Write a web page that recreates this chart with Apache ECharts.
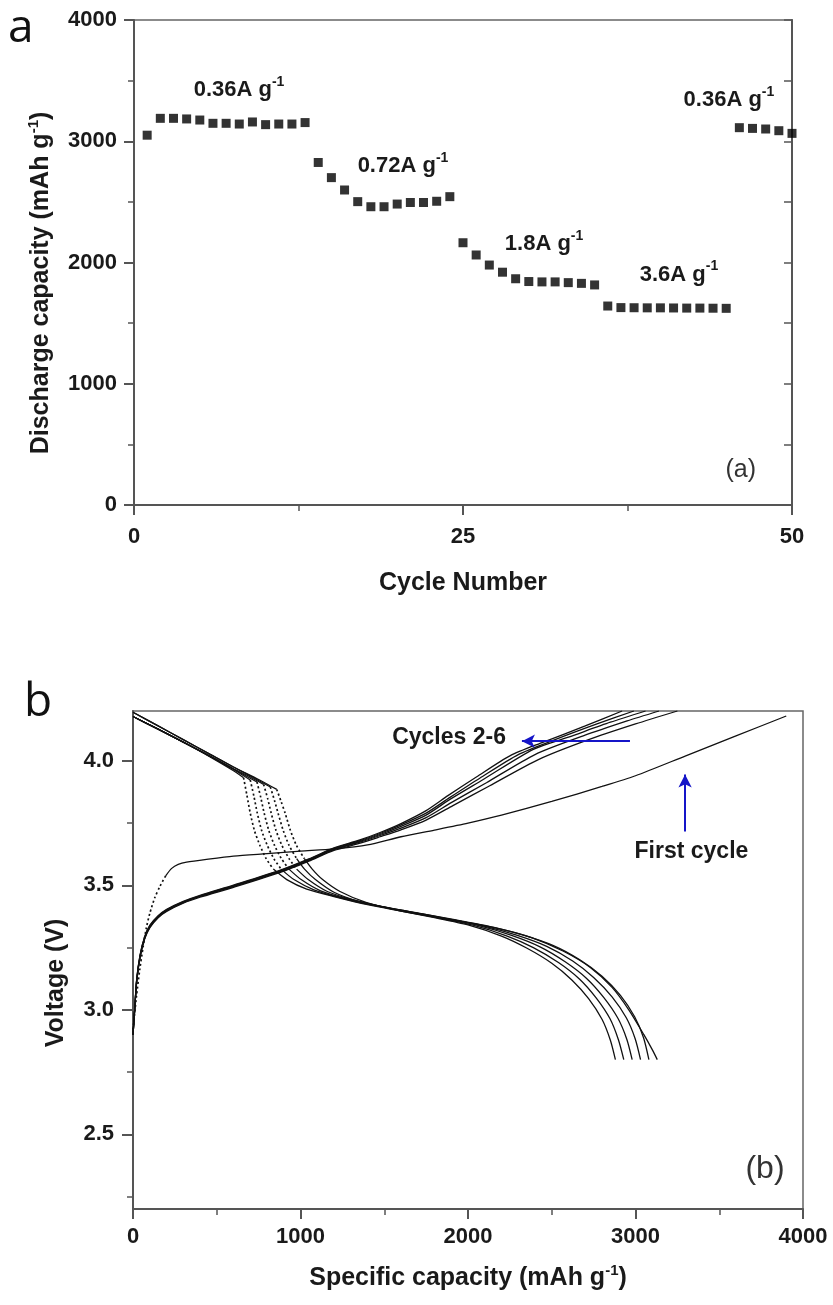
<!DOCTYPE html>
<html><head><meta charset="utf-8">
<script src="https://cdn.jsdelivr.net/npm/echarts@6/dist/echarts.min.js"></script>
<style>html,body{margin:0;padding:0;background:#fff}#c{width:833px;height:1305px}</style>
</head><body><div id="c"></div>
<script>
// ---------- Panel (a): rate capability ----------
const cycles = [1,2,3,4,5,6,7,8,9,10,11,12,13,14,15,16,17,18,19,20,21,22,23,24,25,26,27,28,29,30,31,32,33,34,35,36,37,38,39,40,41,42,43,44,45,46,47,48,49,50];
const capacity = [3050,3189,3189,3184,3175,3148,3148,3142,3159,3137,3142,3142,3154,
  2825,2700,2598,2502,2460,2460,2482,2495,2495,2505,2543,
  2163,2062,1979,1920,1866,1843,1840,1840,1834,1828,1815,
  1641,1628,1627,1626,1626,1625,1624,1624,1623,1622,
  3112,3106,3101,3087,3065];
const rateLabels = ['0.36A g','0.72A g','1.8A g','3.6A g','0.36A g'];
const xTicksA = [0,25,50];
const yTicksA = [0,1000,2000,3000,4000];

// ---------- Panel (b): voltage profiles [capacity, voltage] ----------
const xTicksB = [0,1000,2000,3000,4000];
const yTicksB = [2.5,3.0,3.5,4.0];
const yMinorB = [2.25,2.75,3.25,3.75];

const discharge1 = [[0,4.195],[150,4.14],[300,4.085],[450,4.03],[600,3.975],[750,3.925],[858,3.885],[885,3.835],[908,3.79],[940,3.72],[976,3.66],[1023,3.607],[1070,3.565],[1132,3.523],[1236,3.475],[1395,3.43],[1594,3.397],[1800,3.373],[2000,3.35],[2190,3.325],[2380,3.29],[2570,3.235],[2730,3.17],[2860,3.09],[2960,3.0],[3050,2.9],[3100,2.84],[3130,2.8]];
const discharge2 = [[0,4.195],[150,4.14],[300,4.085],[450,4.03],[600,3.975],[720,3.932],[820,3.895],[845,3.84],[866,3.79],[897,3.72],[932,3.66],[977,3.607],[1024,3.565],[1089,3.523],[1200,3.472],[1350,3.435],[1520,3.41],[1720,3.386],[1920,3.362],[2120,3.336],[2320,3.302],[2510,3.258],[2670,3.2],[2800,3.135],[2910,3.058],[2995,2.972],[3048,2.888],[3080,2.8]];
const discharge3 = [[0,4.178],[150,4.127],[300,4.075],[450,4.022],[600,3.968],[700,3.935],[780,3.905],[804,3.848],[825,3.79],[854,3.72],[889,3.66],[932,3.607],[977,3.565],[1046,3.523],[1160,3.475],[1320,3.44],[1490,3.414],[1690,3.39],[1890,3.364],[2090,3.337],[2290,3.3],[2470,3.255],[2625,3.196],[2750,3.13],[2860,3.052],[2945,2.968],[2998,2.884],[3030,2.8]];
const discharge4 = [[0,4.178],[150,4.127],[300,4.075],[450,4.022],[600,3.967],[740,3.915],[763,3.852],[783,3.79],[811,3.72],[845,3.66],[886,3.607],[931,3.565],[1004,3.523],[1120,3.478],[1280,3.445],[1460,3.417],[1660,3.392],[1860,3.366],[2060,3.339],[2260,3.299],[2430,3.253],[2580,3.193],[2705,3.128],[2810,3.05],[2895,2.966],[2948,2.882],[2980,2.8]];
const discharge5 = [[0,4.178],[150,4.127],[300,4.075],[450,4.022],[600,3.965],[700,3.923],[722,3.857],[742,3.79],[768,3.72],[802,3.66],[841,3.607],[884,3.565],[961,3.523],[1080,3.482],[1240,3.45],[1430,3.42],[1630,3.394],[1830,3.368],[2030,3.34],[2230,3.297],[2390,3.25],[2540,3.19],[2665,3.124],[2765,3.048],[2848,2.964],[2898,2.88],[2930,2.8]];
const discharge6 = [[0,4.178],[150,4.127],[300,4.075],[450,4.02],[600,3.96],[660,3.932],[680,3.862],[700,3.79],[725,3.72],[758,3.66],[795,3.607],[838,3.565],[918,3.523],[1037,3.485],[1200,3.455],[1400,3.422],[1600,3.396],[1800,3.37],[2000,3.341],[2200,3.296],[2350,3.248],[2500,3.187],[2620,3.12],[2720,3.045],[2800,2.962],[2850,2.878],[2880,2.8]];

const charge1 = [[0,2.92],[20,3.05],[40,3.16],[61,3.255],[80,3.33],[101,3.389],[130,3.45],[161,3.496],[195,3.538],[231,3.568],[270,3.584],[320,3.593],[450,3.605],[600,3.617],[800,3.627],[1000,3.637],[1200,3.646],[1400,3.662],[1600,3.695],[1800,3.722],[2000,3.75],[2200,3.782],[2500,3.837],[2800,3.897],[3000,3.94],[3300,4.02],[3600,4.1],[3900,4.18]];
const charge2 = [[0,2.9],[10,3.0],[22,3.11],[42,3.21],[70,3.285],[101,3.33],[150,3.37],[201,3.395],[300,3.428],[400,3.452],[600,3.492],[880,3.552],[1050,3.597],[1200,3.64],[1350,3.668],[1475,3.695],[1600,3.723],[1750,3.762],[1910,3.82],[2130,3.9],[2420,4.005],[2720,4.085],[3000,4.148],[3250,4.2]];
const charge3 = [[0,2.9],[10,3.0],[22,3.115],[42,3.212],[70,3.288],[101,3.333],[150,3.372],[201,3.398],[300,3.43],[400,3.455],[600,3.495],[880,3.555],[1050,3.6],[1200,3.643],[1350,3.672],[1475,3.7],[1600,3.73],[1750,3.772],[1900,3.832],[2110,3.912],[2400,4.025],[2688,4.1],[2950,4.16],[3140,4.2]];
const charge4 = [[0,2.9],[10,3.0],[22,3.118],[42,3.215],[70,3.29],[101,3.335],[150,3.374],[201,3.4],[300,3.432],[400,3.456],[600,3.497],[880,3.557],[1050,3.602],[1200,3.645],[1350,3.675],[1475,3.704],[1600,3.737],[1750,3.782],[1892,3.845],[2091,3.925],[2390,4.046],[2600,4.095],[2850,4.155],[3060,4.2]];
const charge5 = [[0,2.9],[10,3.0],[22,3.12],[42,3.218],[70,3.293],[101,3.338],[150,3.376],[201,3.402],[300,3.434],[400,3.458],[600,3.499],[880,3.559],[1050,3.604],[1200,3.648],[1350,3.678],[1475,3.708],[1600,3.743],[1750,3.79],[1890,3.852],[2070,3.93],[2300,4.025],[2520,4.085],[2770,4.148],[2990,4.2]];
const charge6 = [[0,2.9],[10,3.0],[22,3.122],[42,3.22],[70,3.295],[101,3.34],[150,3.378],[201,3.404],[300,3.436],[400,3.46],[600,3.501],[880,3.561],[1050,3.606],[1200,3.65],[1350,3.681],[1475,3.712],[1600,3.748],[1750,3.8],[1880,3.86],[2050,3.935],[2250,4.02],[2450,4.075],[2700,4.14],[2920,4.2]];

// ---------- styling ----------
const FONT = '"Liberation Sans", Arial, sans-serif';
const AXC = '#555';
const TXT = '#1a1a1a';
const richBase = {
  t: {fontFamily: FONT, fontWeight: 'bold', fontSize: 22, fill: TXT, color: TXT, lineHeight: 30},
  s: {fontFamily: FONT, fontWeight: 'bold', fontSize: 14, fill: TXT, color: TXT, lineHeight: 14, verticalAlign: 'top'}
};
const richTitle = {
  t: {fontFamily: FONT, fontWeight: 'bold', fontSize: 25, fill: TXT, color: TXT, lineHeight: 30},
  s: {fontFamily: FONT, fontWeight: 'bold', fontSize: 15, fill: TXT, color: TXT, lineHeight: 15, verticalAlign: 'top'}
};
const labelStyle = {fontFamily: FONT, fontWeight: 'bold', fontSize: 22, color: TXT};

function splitRuns(pts, vLo, vHi, thr) {
  const runs = [];
  for (let i = 0; i < pts.length - 1; i++) {
    const a = pts[i], b = pts[i + 1];
    const slope = Math.abs((b[1] - a[1]) / ((b[0] - a[0]) || 1e-9)) * 1000;
    const dotted = slope > thr && a[1] >= vLo && a[1] <= vHi && b[1] >= vLo && b[1] <= vHi;
    const last = runs[runs.length - 1];
    if (last && last.dotted === dotted) last.pts.push(b);
    else runs.push({dotted, pts: [a, b]});
  }
  return runs;
}
function curveSeries(pts, dottedWin) {
  const runs = dottedWin ? splitRuns(pts, dottedWin[0], dottedWin[1], 0.9) : [{dotted: false, pts}];
  return runs.map(r => ({
    type: 'line', xAxisIndex: 1, yAxisIndex: 2, data: r.pts,
    showSymbol: false, symbol: 'none', smooth: 0.25, silent: true,
    lineStyle: {color: '#111', width: r.dotted ? 1.7 : 1.3, type: r.dotted ? [2, 2.6] : 'solid'}
  }));
}

const series = [];
series.push({
  type: 'scatter', xAxisIndex: 0, yAxisIndex: 0, symbol: 'rect', symbolSize: 9,
  itemStyle: {color: '#000'}, silent: true,
  data: cycles.map((c, i) => [c, capacity[i]])
});

[discharge1, discharge2, discharge3, discharge4, discharge5, discharge6].forEach(d => {
  curveSeries(d, [3.55, 3.94]).forEach(s => series.push(s));
});
curveSeries(charge1, [2.85, 3.55]).forEach(s => series.push(s));
[charge2, charge3, charge4, charge5, charge6].forEach(d => {
  curveSeries(d, null).forEach(s => series.push(s));
});

// arrows (data coordinates) carried by an empty line series
series.push({
  type: 'line', xAxisIndex: 1, yAxisIndex: 2, data: [], silent: true,
  markLine: {
    silent: true, animation: false, symbol: ['none', 'arrow'], symbolSize: [10, 13],
    label: {show: false},
    lineStyle: {color: '#1515c8', width: 2, type: 'solid'},
    data: [
      [{coord: [2967, 4.079]}, {coord: [2322, 4.079]}],
      [{coord: [3296, 3.716]}, {coord: [3296, 3.945]}]
    ]
  }
});

const axisLine = {show: true, onZero: false, lineStyle: {color: AXC, width: 2}};
const tick = (len) => ({show: true, length: len, lineStyle: {color: AXC, width: 2}});
const plain = v => String(v);

const baseGraphics = [
  {type: 'text', x: 8, y: 29, silent: true,
   style: {text: 'a', font: 'normal 46px "Open Sans", sans-serif', fill: '#111', align: 'left', verticalAlign: 'middle'}},
  {type: 'text', x: 24, y: 703, silent: true,
   style: {text: 'b', font: 'normal 46px "Open Sans", sans-serif', fill: '#111', align: 'left', verticalAlign: 'middle'}},
  {type: 'text', x: 41, y: 283, rotation: Math.PI / 2, silent: true,
   style: {text: '{t|Discharge capacity (mAh g}{s|-1}{t|)}', rich: richTitle, align: 'center', verticalAlign: 'middle'}},
  {type: 'text', x: 56, y: 983, rotation: Math.PI / 2, silent: true,
   style: {text: '{t|Voltage (V)}', rich: richTitle, align: 'center', verticalAlign: 'middle'}}
];

const option = {
  animation: false,
  backgroundColor: '#fff',
  grid: [
    {left: 134, top: 20, width: 658, height: 485, show: true, borderColor: '#666', borderWidth: 1.5, backgroundColor: 'transparent'},
    {left: 133, top: 711, width: 670, height: 498, show: true, borderColor: '#666', borderWidth: 1.5, backgroundColor: 'transparent'}
  ],
  xAxis: [
    {gridIndex: 0, type: 'value', min: 0, max: 50, interval: 25,
     axisLine, axisTick: tick(10),
     minorTick: {show: true, splitNumber: 2, length: 6, lineStyle: {color: AXC, width: 1.5}},
     splitLine: {show: false}, minorSplitLine: {show: false},
     axisLabel: Object.assign({margin: 21, customValues: xTicksA, formatter: plain}, labelStyle),
     name: '{t|Cycle Number}', nameLocation: 'middle', nameGap: 63,
     nameTextStyle: {rich: richTitle}},
    {gridIndex: 1, type: 'value', min: 0, max: 4000, interval: 1000,
     axisLine, axisTick: tick(10),
     minorTick: {show: true, splitNumber: 2, length: 6, lineStyle: {color: AXC, width: 1.5}},
     splitLine: {show: false}, minorSplitLine: {show: false},
     axisLabel: Object.assign({margin: 17, customValues: xTicksB, formatter: plain}, labelStyle),
     name: '{t|Specific capacity (mAh g}{s|-1}{t|)}', nameLocation: 'middle', nameGap: 54,
     nameTextStyle: {rich: richTitle}}
  ],
  yAxis: [
    {gridIndex: 0, type: 'value', min: 0, max: 4000, interval: 1000, position: 'left',
     axisLine, axisTick: tick(10),
     minorTick: {show: true, splitNumber: 2, length: 6, lineStyle: {color: AXC, width: 1.5}},
     splitLine: {show: false}, minorSplitLine: {show: false},
     axisLabel: Object.assign({margin: 17, customValues: yTicksA, formatter: plain}, labelStyle)},
    {gridIndex: 0, type: 'value', min: 0, max: 4000, interval: 500, position: 'right',
     axisLine, axisTick: {show: true, inside: true, length: 8, lineStyle: {color: AXC, width: 1.5}},
     splitLine: {show: false}, axisLabel: {show: false}},
    {gridIndex: 1, type: 'value', min: 2.2, max: 4.2, position: 'left',
     axisLine, axisTick: Object.assign(tick(11), {customValues: yTicksB}),
     splitLine: {show: false},
     axisLabel: Object.assign({margin: 19, customValues: yTicksB, formatter: v => Number(v).toFixed(1)}, labelStyle)},
    {gridIndex: 1, type: 'value', min: 2.2, max: 4.2, position: 'left',
     axisLine: {show: false}, axisTick: {show: true, length: 6, customValues: yMinorB, lineStyle: {color: AXC, width: 1.5}},
     splitLine: {show: false}, axisLabel: {show: false}}
  ],
  graphic: baseGraphics,
  series
};

const chart = echarts.init(document.getElementById('c'), null, {renderer: 'canvas'});
chart.setOption(option);

// annotations placed through the axes' own scales
const toA = v => chart.convertToPixel({xAxisIndex: 0, yAxisIndex: 0}, v);
const toB = v => chart.convertToPixel({xAxisIndex: 1, yAxisIndex: 2}, v);
const annPosA = [[7.98, 3423], [20.44, 2796], [31.16, 2153], [41.41, 1901], [45.21, 3340]];
const ann = [];
rateLabels.forEach((t, i) => {
  const p = toA(annPosA[i]);
  ann.push({type: 'text', x: p[0], y: p[1], silent: true,
    style: {text: '{t|' + t + '}{s|-1}', rich: richBase, align: 'center', verticalAlign: 'middle'}});
});
const pa = toA([46.1, 289]);
ann.push({type: 'text', x: pa[0], y: pa[1], silent: true,
  style: {text: '(a)', font: 'normal 25px ' + FONT, fill: '#333', align: 'center', verticalAlign: 'middle'}});
const pc = toB([1887, 4.094]);
ann.push({type: 'text', x: pc[0], y: pc[1], silent: true,
  style: {text: 'Cycles 2-6', font: 'bold 23px ' + FONT, fill: TXT, align: 'center', verticalAlign: 'middle'}});
const pf = toB([3334, 3.636]);
ann.push({type: 'text', x: pf[0], y: pf[1], silent: true,
  style: {text: 'First cycle', font: 'bold 23px ' + FONT, fill: TXT, align: 'center', verticalAlign: 'middle'}});
const pb = toB([3773, 2.36]);
ann.push({type: 'text', x: pb[0], y: pb[1], silent: true,
  style: {text: '(b)', font: 'normal 32px ' + FONT, fill: '#333', align: 'center', verticalAlign: 'middle'}});
chart.setOption({graphic: baseGraphics.concat(ann)});
</script>
</body></html>
